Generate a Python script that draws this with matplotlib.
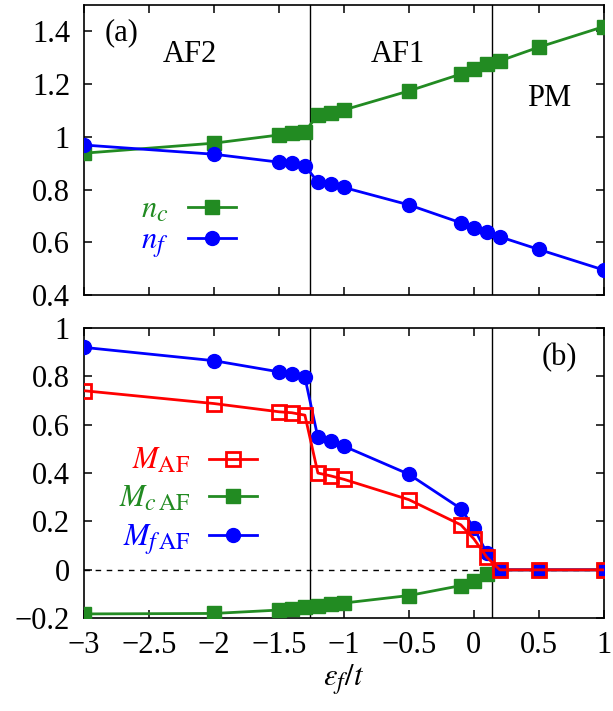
import matplotlib
matplotlib.use("Agg")
import matplotlib.pyplot as plt
import matplotlib._mathtext as mathtext_internal
from matplotlib.ticker import FuncFormatter

plt.rcParams['font.family'] = ['Liberation Serif', 'DejaVu Serif']
plt.rcParams['mathtext.fontset'] = 'stix'
plt.rcParams['font.size'] = 22
# subscripts in the original are drawn bigger than mathtext's default
mathtext_internal.SHRINK_FACTOR = 0.78

# epsilon_f / t
eps_f = [-3.0, -2.0, -1.5, -1.4, -1.3, -1.2, -1.1, -1.0, -0.5, -0.1, 0.0, 0.1, 0.2, 0.5, 1.0]

# panel (a): occupations
n_c = [0.938, 0.976, 1.007, 1.014, 1.020, 1.083, 1.092, 1.102, 1.174, 1.238, 1.258, 1.277, 1.288, 1.340, 1.418]
n_f = [0.969, 0.934, 0.904, 0.900, 0.891, 0.828, 0.820, 0.808, 0.742, 0.674, 0.655, 0.638, 0.621, 0.573, 0.495]

# panel (b): staggered magnetisations
M_af = [0.740, 0.687, 0.653, 0.649, 0.639, 0.400, 0.388, 0.374, 0.290, 0.186, 0.128, 0.052, 0.0, 0.0, 0.0]
M_c_af = [-0.182, -0.180, -0.166, -0.162, -0.155, -0.148, -0.141, -0.137, -0.106, -0.065, -0.044, -0.017, 0.0, 0.0, 0.0]
M_f_af = [0.919, 0.864, 0.818, 0.809, 0.795, 0.547, 0.533, 0.511, 0.395, 0.253, 0.174, 0.069, 0.0, 0.0, 0.0]

# phase boundaries
boundaries = [-1.26, 0.14]
phases = ['AF2', 'AF1', 'PM']

GREEN = '#228b22'
BLUE = '#0000ff'
RED = '#ff0000'


def fmt(v, pos):
    return ('%g' % v).replace('-', '\u2212')


def style_axes(ax):
    ax.set_xlim(-3, 1)
    ax.set_xticks([-3, -2.5, -2, -1.5, -1, -0.5, 0, 0.5, 1])
    ax.tick_params(direction='in', top=True, right=True, length=6, width=1.1, labelsize=22)
    ax.tick_params(axis='x', pad=9)
    ax.tick_params(axis='y', pad=10)
    ax.xaxis.set_major_formatter(FuncFormatter(fmt))
    ax.yaxis.set_major_formatter(FuncFormatter(fmt))
    for s in ax.spines.values():
        s.set_linewidth(1.2)
    for b in boundaries:
        ax.axvline(b, color='black', lw=1.0, zorder=1)


fig = plt.figure(figsize=(6.13, 7.11), dpi=100)
ax1 = fig.add_axes([0.137, 0.585, 0.848, 0.408])
ax2 = fig.add_axes([0.137, 0.1304, 0.848, 0.4086])

# ---- panel (a)
style_axes(ax1)
ax1.set_ylim(0.4, 1.5)
ax1.set_yticks([0.4, 0.6, 0.8, 1.0, 1.2, 1.4])
ax1.tick_params(axis='x', labelbottom=False)
l_nc, = ax1.plot(eps_f, n_c, color=GREEN, lw=2, marker='s', ms=9.5, label=r'$n_c$', zorder=3)
l_nf, = ax1.plot(eps_f, n_f, color=BLUE, lw=2, marker='o', ms=10, label=r'$n_f$', zorder=4)
ax1.legend(handles=[l_nc, l_nf], loc='center right', bbox_to_anchor=(0.292, 0.232),
           frameon=False, markerfirst=False, numpoints=1, handlelength=1.57,
           handletextpad=0.62, labelspacing=0.08, borderpad=0, borderaxespad=0,
           labelcolor='linecolor', fontsize=22)
ax1.text(0.04, 0.903, '(a)', transform=ax1.transAxes, ha='left', va='center')
ax1.text(0.204, 0.828, phases[0], transform=ax1.transAxes, ha='center', va='center')
ax1.text(0.604, 0.828, phases[1], transform=ax1.transAxes, ha='center', va='center')
ax1.text(0.894, 0.676, phases[2], transform=ax1.transAxes, ha='center', va='center')

# ---- panel (b)
style_axes(ax2)
ax2.set_ylim(-0.2, 1.0)
ax2.set_yticks([-0.2, 0, 0.2, 0.4, 0.6, 0.8, 1.0])
ax2.axhline(0, color='black', lw=1.0, ls=(0, (4, 4)), zorder=1)
l_mc, = ax2.plot(eps_f, M_c_af, color=GREEN, lw=2, marker='s', ms=9.5,
                 label=r'$M_{c\,\mathrm{AF}}$', zorder=3)
l_mf, = ax2.plot(eps_f, M_f_af, color=BLUE, lw=2, marker='o', ms=10,
                 label=r'$M_{f\,\mathrm{AF}}$', zorder=4)
l_m, = ax2.plot(eps_f, M_af, color=RED, lw=2, marker='s', ms=9.5, mfc='none', mew=2,
                label=r'$M_{\mathrm{AF}}$', zorder=5)
ax2.legend(handles=[l_m, l_mc, l_mf], loc='center right', bbox_to_anchor=(0.333, 0.40),
           frameon=False, markerfirst=False, numpoints=1, handlelength=1.57,
           handletextpad=0.62, labelspacing=0.28, borderpad=0, borderaxespad=0,
           labelcolor='linecolor', fontsize=22)
ax2.text(0.915, 0.899, '(b)', transform=ax2.transAxes, ha='center', va='center')
ax2.set_xlabel(r'$\varepsilon_f/t$', fontsize=22, labelpad=2)

fig.savefig('out.png', dpi=100)
